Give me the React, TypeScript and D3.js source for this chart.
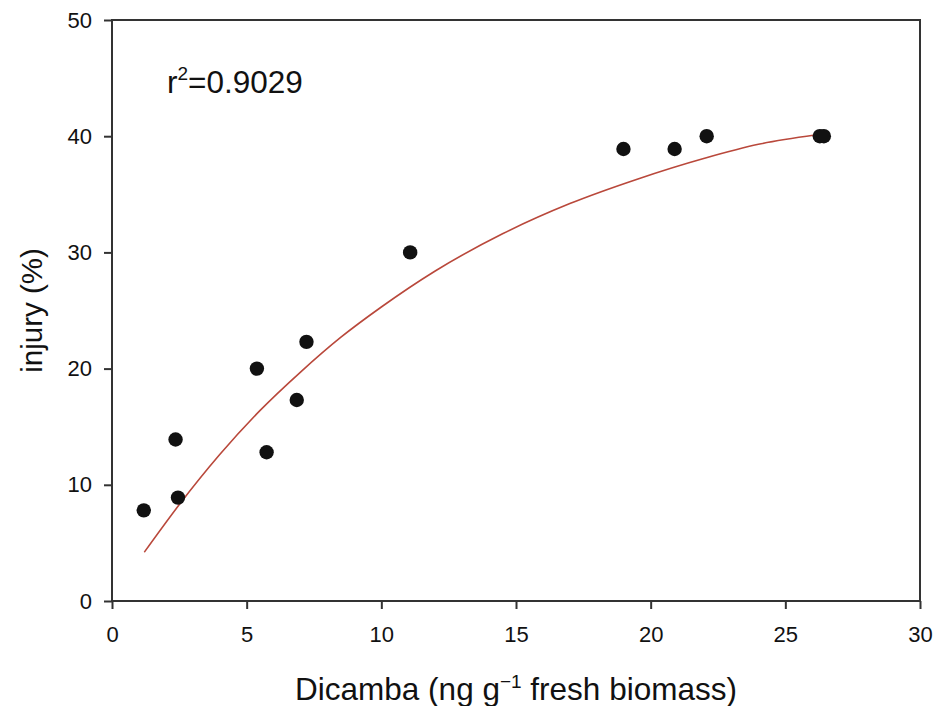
import React, { useEffect, useRef } from "react";
import * as d3 from "d3";

// Observed data points
const dicamba = [1.18, 2.36, 2.45, 5.38, 5.74, 6.86, 7.22, 11.07, 18.99, 20.89, 22.08, 26.28, 26.43];
const injury = [7.8, 13.9, 8.9, 20.0, 12.8, 17.3, 22.3, 30.0, 38.9, 38.9, 40.0, 40.0, 40.0];

// Fitted curve
const fitX = [1.2, 2.5, 4, 5.5, 7, 8.5, 10, 12, 14.5, 17, 19.5, 22, 24, 26.1];
const fitY = [4.2, 8.3, 12.6, 16.4, 19.7, 22.7, 25.3, 28.4, 31.6, 34.2, 36.3, 38.1, 39.3, 40.1];

const xTicks = [0, 5, 10, 15, 20, 25, 30];
const yTicks = [0, 10, 20, 30, 40, 50];

const W = 936;
const H = 706;
const M = { left: 112, right: 16, top: 20, bottom: 105 };
const FONT = "'Liberation Sans', Arial, Helvetica, sans-serif";
const AXIS_COLOR = "#333333";

export default function App() {
  const xAxisRef = useRef<SVGGElement>(null);
  const yAxisRef = useRef<SVGGElement>(null);

  const x = d3.scaleLinear().domain([0, 30]).range([M.left, W - M.right]);
  const y = d3.scaleLinear().domain([0, 50]).range([H - M.bottom, M.top]);

  useEffect(() => {
    const xa = d3.select(xAxisRef.current!);
    xa.call(d3.axisBottom(x).tickValues(xTicks).tickSize(8).tickPadding(17).tickFormat(d3.format("d")) as any);
    xa.select(".domain").remove();
    xa.selectAll(".tick line").attr("stroke", AXIS_COLOR).attr("stroke-width", 2);
    xa.selectAll(".tick text").attr("font-family", FONT).attr("font-size", 22).attr("fill", "#111");

    const ya = d3.select(yAxisRef.current!);
    ya.call(d3.axisLeft(y).tickValues(yTicks).tickSize(8).tickPadding(12).tickFormat(d3.format("d")) as any);
    ya.select(".domain").remove();
    ya.selectAll(".tick line").attr("stroke", AXIS_COLOR).attr("stroke-width", 2);
    ya.selectAll(".tick text").attr("font-family", FONT).attr("font-size", 22).attr("fill", "#111");
  }, []);

  const fitData = fitX.map((v, i) => [v, fitY[i]] as [number, number]);
  const line = d3
    .line<[number, number]>()
    .x((d) => x(d[0]))
    .y((d) => y(d[1]))
    .curve(d3.curveMonotoneX);

  const x0 = x(0), x1 = x(30), y0 = y(0), y1 = y(50);

  return (
    <svg
      width={W}
      height={H}
      style={{ position: "absolute", left: 0, top: 0, background: "#fff" }}
    >
      <rect x={0} y={0} width={W} height={H} fill="#fff" />
      {/* frame */}
      <rect x={x0} y={y1} width={x1 - x0} height={y0 - y1} fill="none" stroke={AXIS_COLOR} strokeWidth={2} />
      <g ref={xAxisRef} transform={`translate(0,${y0})`} />
      <g ref={yAxisRef} transform={`translate(${x0},0)`} />

      {/* fitted curve */}
      <path d={line(fitData) || ""} fill="none" stroke="#b9483b" strokeWidth={1.6} />

      {/* points */}
      {dicamba.map((d, i) => (
        <circle key={i} cx={x(d)} cy={y(injury[i])} r={7.2} fill="#111" />
      ))}

      {/* r² annotation */}
      <text x={167} y={93} fontFamily={FONT} fontSize={31.5} fill="#111">
        r
        <tspan fontSize={19} dy={-13}>2</tspan>
        <tspan dy={13}>=0.9029</tspan>
      </text>

      {/* x title */}
      <text x={(x0 + x1) / 2} y={700} textAnchor="middle" fontFamily={FONT} fontSize={31.5} fill="#111">
        Dicamba (ng g
        <tspan fontSize={19} dy={-12}>−1</tspan>
        <tspan dy={12}> fresh biomass)</tspan>
      </text>

      {/* y title */}
      <text
        transform={`translate(42,${(y0 + y1) / 2}) rotate(-90)`}
        textAnchor="middle"
        fontFamily={FONT}
        fontSize={29.5}
        fill="#111"
      >
        injury (%)
      </text>
    </svg>
  );
}
